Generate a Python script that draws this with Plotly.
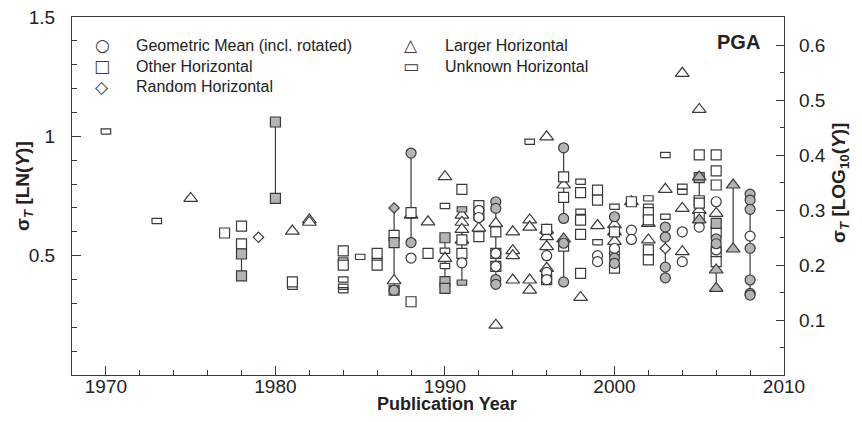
import math
import plotly.graph_objects as go

# sigma_T (natural-log units) vs publication year, by horizontal component definition
# Geometric mean (circles)
geo_year = [1988, 1991, 1992, 1992, 1993, 1993, 1996, 1996, 1996, 1999, 1999, 2000, 2000,
            2001, 2001, 2004, 2004, 2005, 2006, 2006, 2008]
geo_sigma = [0.49, 0.47, 0.69, 0.66, 0.51, 0.455, 0.50, 0.43, 0.40, 0.50, 0.475, 0.51, 0.53,
             0.607, 0.568, 0.60, 0.475, 0.62, 0.726, 0.524, 0.582]
geo_fill_year = [1987, 1988, 1988, 1993, 1993, 1993, 1993, 1997, 1997, 1997, 1997, 2000, 2000, 2000,
                 2003, 2003, 2003, 2003, 2006, 2006, 2008, 2008, 2008, 2008, 2008, 2008, 2008]
geo_fill_sigma = [0.355, 0.93, 0.555, 0.726, 0.698, 0.40, 0.38, 0.952, 0.656, 0.552, 0.39, 0.663, 0.49, 0.468,
                  0.62, 0.578, 0.452, 0.407, 0.57, 0.55, 0.758, 0.733, 0.694, 0.531, 0.398, 0.342, 0.335]

# Other horizontal (squares)
oth_year = [1977, 1978, 1978, 1981, 1984, 1984, 1986, 1986, 1987, 1988, 1988, 1989, 1991, 1991, 1991,
            1992, 1992, 1992, 1993, 1993, 1993, 1996, 1996, 1997, 1997, 1997, 1998, 1998, 1998, 1998,
            1999, 1999, 2000, 2000, 2001, 2002, 2002, 2002, 2002, 2005, 2005, 2005, 2005,
            2006, 2006, 2006, 2006, 2006, 2006]
oth_sigma = [0.595, 0.624, 0.549, 0.39, 0.52, 0.46, 0.51, 0.46, 0.585, 0.68, 0.307, 0.51, 0.778, 0.566, 0.51,
             0.71, 0.67, 0.58, 0.60, 0.51, 0.455, 0.61, 0.40, 0.83, 0.744, 0.54, 0.764, 0.649, 0.589, 0.426,
             0.775, 0.733, 0.60, 0.448, 0.726, 0.68, 0.65, 0.524, 0.482, 0.922, 0.73, 0.72, 0.66,
             0.922, 0.855, 0.796, 0.60, 0.517, 0.475]
oth_fill_year = [1978, 1978, 1980, 1980, 1987, 1987, 1990, 1990, 1990, 2005, 2006]
oth_fill_sigma = [0.507, 0.415, 1.06, 0.74, 0.555, 0.355, 0.575, 0.391, 0.363, 0.827, 0.635]

# Random horizontal (diamonds)
rnd_year = [1979, 2003]
rnd_sigma = [0.577, 0.53]
rnd_fill_year = [1987]
rnd_fill_sigma = [0.70]

# Larger horizontal (triangles)
lrg_year = [1975, 1981, 1982, 1982, 1987, 1988, 1989, 1990, 1990, 1991, 1991, 1991, 1991, 1992,
            1993, 1993, 1994, 1994, 1994, 1994, 1995, 1995, 1995, 1995, 1996, 1996, 1996, 1996, 1996,
            1997, 1998, 1999, 2000, 2000, 2000, 2001, 2002, 2002, 2003, 2004, 2004, 2004,
            2005, 2005, 2006]
lrg_sigma = [0.74, 0.603, 0.65, 0.64, 0.395, 0.67, 0.642, 0.831, 0.489, 0.67, 0.64, 0.61, 0.565, 0.615,
             0.635, 0.209, 0.60, 0.521, 0.50, 0.398, 0.65, 0.62, 0.398, 0.356, 0.998, 0.607, 0.58, 0.538, 0.447,
             0.796, 0.325, 0.626, 0.63, 0.60, 0.56, 0.726, 0.635, 0.566, 0.778, 1.264, 0.698, 0.517,
             1.113, 0.69, 0.677]
lrg_fill_year = [1997, 2005, 2005, 2006, 2006, 2007, 2007]
lrg_fill_sigma = [0.57, 0.83, 0.65, 0.44, 0.363, 0.796, 0.528]

# Unknown horizontal (flat rectangles)
unk_year = [1970, 1973, 1981, 1984, 1984, 1984, 1984, 1985, 1986, 1990, 1990, 1990, 1995,
            1998, 1998, 1999, 2000, 2002, 2002, 2003, 2003, 2004, 2004]
unk_sigma = [1.02, 0.645, 0.37, 0.48, 0.40, 0.37, 0.355, 0.495, 0.485, 0.708, 0.521, 0.457, 0.977,
             0.81, 0.684, 0.556, 0.705, 0.74, 0.705, 0.922, 0.663, 0.789, 0.768]
unk_fill_year = [1991, 1991]
unk_fill_sigma = [0.694, 0.387]

# vertical lines joining the multiple values of one study
range_year = [1978, 1980, 1987, 1988, 1990, 1991, 1993, 1997, 1997, 2000, 2003, 2005, 2006, 2007, 2008]
range_lo = [0.415, 0.74, 0.355, 0.555, 0.363, 0.387, 0.38, 0.656, 0.39, 0.468, 0.407, 0.65, 0.363, 0.528, 0.335]
range_hi = [0.507, 1.06, 0.70, 0.93, 0.575, 0.694, 0.726, 0.952, 0.57, 0.663, 0.62, 0.83, 0.635, 0.796, 0.758]

INK = '#3a3a3a'
GRAY = '#b4b4b4'
FONT = 'Liberation Sans, Arial, sans-serif'

fig = go.Figure()

# range lines
lx, ly = [], []
for yr, lo, hi in zip(range_year, range_lo, range_hi):
    lx += [yr, yr, None]
    ly += [lo, hi, None]
fig.add_trace(go.Scatter(x=lx, y=ly, mode='lines', line=dict(color=INK, width=1.2),
                         hoverinfo='skip', showlegend=False))


def add_markers(years, sigmas, symbol, size, fill):
    fig.add_trace(go.Scatter(
        x=years, y=sigmas, mode='markers', showlegend=False,
        marker=dict(symbol=symbol, size=size, color=fill, line=dict(color=INK, width=1.2))
    ))


def add_rects(years, sigmas, fill, hw=0.28, hh=0.011):
    xs, ys = [], []
    for yr, s in zip(years, sigmas):
        xs += [yr - hw, yr + hw, yr + hw, yr - hw, yr - hw, None]
        ys += [s - hh, s - hh, s + hh, s + hh, s - hh, None]
    fig.add_trace(go.Scatter(x=xs, y=ys, mode='lines', fill='toself', fillcolor=fill,
                             line=dict(color=INK, width=1.2), hoverinfo='skip', showlegend=False))


add_rects(unk_year, unk_sigma, 'white')
add_markers(lrg_year, lrg_sigma, 'triangle-up', 12, 'white')
add_markers(oth_year, oth_sigma, 'square', 10, 'white')
add_markers(geo_year, geo_sigma, 'circle', 10, 'white')
add_markers(rnd_year, rnd_sigma, 'diamond', 8, 'white')
add_rects(unk_fill_year, unk_fill_sigma, GRAY)
add_markers(oth_fill_year, oth_fill_sigma, 'square', 10, GRAY)
add_markers(lrg_fill_year, lrg_fill_sigma, 'triangle-up', 12, GRAY)
add_markers(geo_fill_year, geo_fill_sigma, 'circle', 10, GRAY)
add_markers(rnd_fill_year, rnd_fill_sigma, 'diamond', 8, GRAY)

# empty trace so the right-hand log10 axis is drawn
fig.add_trace(go.Scatter(x=[], y=[], yaxis='y2', showlegend=False, hoverinfo='skip'))

# page body adds an 8px margin, so the figure is 16px smaller than the window
PAD = 8
FW, FH = 862 - 2 * PAD, 422 - 2 * PAD
L, T, W, H = 72 - PAD, 17 - PAD, 712, 358


def px(x):
    return (x - PAD - L) / W


def py(y):
    return (T + H - (y - PAD)) / H


legend_rows = [
    ('\u25cb', 'Geometric Mean (incl. rotated)', 102, 45),
    ('\u25a1', 'Other Horizontal', 102, 66),
    ('\u25c7', 'Random Horizontal', 102, 87),
    ('\u25b3', 'Larger Horizontal', 411, 45),
    ('\u25ad', 'Unknown Horizontal', 411, 66),
]
ann = []
for sym, label, x0, y0 in legend_rows:
    ann.append(dict(text=sym, x=px(x0), y=py(y0), xref='paper', yref='paper', showarrow=False,
                    xanchor='center', yanchor='middle', font=dict(family='DejaVu Sans', size=17, color=INK)))
    ann.append(dict(text=label, x=px(x0 + 32), y=py(y0), xref='paper', yref='paper', showarrow=False,
                    xanchor='left', yanchor='middle', font=dict(family=FONT, size=16, color='#222')))

ann.append(dict(text='<b>PGA</b>', x=px(738), y=py(42), xref='paper', yref='paper', showarrow=False,
                xanchor='center', yanchor='middle', font=dict(family=FONT, size=20, color='#222')))
ann.append(dict(text='<b>Publication Year</b>', x=px(447), y=py(404), xref='paper', yref='paper',
                showarrow=False, xanchor='center', yanchor='middle', font=dict(family=FONT, size=18, color='#222')))
ann.append(dict(text='<b>\u03c3<sub><i>T</i></sub> [LN(<i>Y</i>)]</b>', x=px(24), y=py(186), xref='paper',
                yref='paper', showarrow=False, textangle=-90, xanchor='center', yanchor='middle',
                font=dict(family=FONT, size=19, color='#222')))
ann.append(dict(text='<b>\u03c3<sub><i>T</i></sub> [LOG<sub>10</sub>(<i>Y</i>)]</b>', x=px(840), y=py(183),
                xref='paper', yref='paper', showarrow=False, textangle=-90, xanchor='center', yanchor='middle',
                font=dict(family=FONT, size=19, color='#222')))

tick_font = dict(family=FONT, size=19, color='#222')
fig.update_layout(
    width=FW, height=FH,
    margin=dict(l=L, r=FW - L - W, t=T, b=FH - T - H, autoexpand=False),
    plot_bgcolor='white', paper_bgcolor='white',
    showlegend=False,
    annotations=ann,
    xaxis=dict(
        range=[1968, 2010], tickvals=[1970, 1980, 1990, 2000, 2010],
        ticks='inside', ticklen=9, tickcolor=INK, tickwidth=1,
        minor=dict(dtick=2, tick0=1968, ticks='inside', ticklen=5, tickcolor=INK),
        showline=True, linecolor=INK, linewidth=1.2, mirror=True,
        showgrid=False, zeroline=False, tickfont=tick_font, ticklabelstandoff=-6,
        ticklabeloverflow='allow'
    ),
    yaxis=dict(
        range=[0, 1.5], tickvals=[0.5, 1, 1.5], ticktext=['0.5', '1', '1.5'],
        ticks='inside', ticklen=9, tickcolor=INK, tickwidth=1,
        minor=dict(dtick=0.1, tick0=0, ticks='inside', ticklen=5, tickcolor=INK),
        showline=True, linecolor=INK, linewidth=1.2,
        showgrid=False, zeroline=False, tickfont=tick_font, ticklabelstandoff=12,
        ticklabeloverflow='allow'
    ),
    yaxis2=dict(
        overlaying='y', side='right', anchor='x',
        range=[0, 1.5 / math.log(10)], tickvals=[0.1, 0.2, 0.3, 0.4, 0.5, 0.6],
        ticks='inside', ticklen=8, tickcolor=INK, tickwidth=1,
        minor=dict(dtick=0.05, tick0=0, ticks='inside', ticklen=4, tickcolor=INK),
        showline=True, linecolor=INK, linewidth=1.2,
        showgrid=False, zeroline=False, tickfont=tick_font, ticklabelstandoff=10,
        ticklabeloverflow='allow'
    ),
)

fig.write_html("out.html")
